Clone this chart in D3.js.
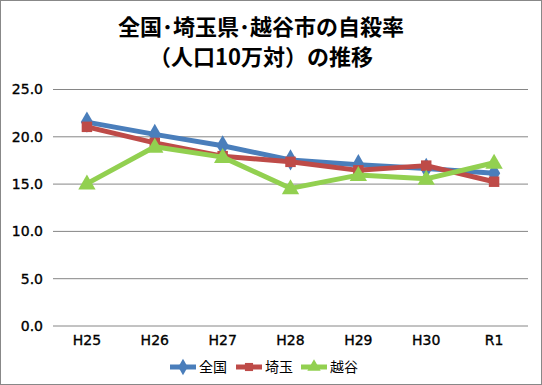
<!DOCTYPE html>
<html><head><meta charset="utf-8">
<script src="https://cdn.jsdelivr.net/npm/d3@7"></script>
<style>body{margin:0;background:#fff}svg{display:block}</style>
</head><body>
<svg id="c" width="542" height="385"></svg>
<script>
const categories = ["H25","H26","H27","H28","H29","H30","R1"];
const zenkoku = [21.5, 20.2, 19.0, 17.5, 17.0, 16.6, 16.1];
const saitama = [21.0, 19.3, 17.9, 17.3, 16.4, 16.9, 15.2];
const koshigaya = [15.0, 18.9, 17.8, 14.5, 15.9, 15.5, 17.2];
const yTicks = [0, 5, 10, 15, 20, 25];
const seriesNames = ["全国","埼玉","越谷"];

const series = [
  {name: seriesNames[0], values: zenkoku, color: "#4A7EBB", sym: d3.symbolDiamond, size: 130},
  {name: seriesNames[1], values: saitama, color: "#BE4B48", sym: d3.symbolSquare, size: 110},
  {name: seriesNames[2], values: koshigaya, color: "#92D050", sym: d3.symbolTriangle, size: 130}
];

const svg = d3.select("#c");
const L = 53, R = 528, T = 89, B = 325.5;
const x = d3.scaleBand().domain(categories).range([L, R]);
const y = d3.scaleLinear().domain([0, 25]).range([B, T]);
const numFont = "'DejaVu Sans', Verdana, sans-serif";
const jpFont = "'Noto Sans CJK JP', sans-serif";

svg.append("rect").attr("x",0.5).attr("y",0.5).attr("width",541).attr("height",384)
  .attr("fill","#fff").attr("stroke","#888").attr("stroke-width",1);

const title = svg.append("text").attr("text-anchor","middle")
  .attr("font-family", jpFont).attr("font-weight","bold").attr("font-size",22).attr("fill","#000");
title.append("tspan").attr("x",261).attr("y",35).text("全国･埼玉県･越谷市の自殺率");
title.append("tspan").attr("x",261).attr("y",65).text("（人口10万対）の推移");

// gridlines
const yAxis = d3.axisLeft(y).tickValues(yTicks).tickFormat(d3.format(".1f")).tickSize(-(R-L)).tickPadding(10);
const ga = svg.append("g").attr("transform",`translate(${L},0)`).call(yAxis);
ga.select(".domain").remove();
ga.selectAll(".tick line").attr("stroke","#868686").attr("stroke-width",1);
ga.selectAll(".tick text").attr("font-family",numFont).attr("font-weight","normal")
  .attr("font-size",14).attr("fill","#000").attr("stroke","#000").attr("stroke-width",0.35)
  .attr("x",-10).attr("dy","0.35em");

const xAxis = d3.axisBottom(x).tickSize(0).tickPadding(10);
const gx = svg.append("g").attr("transform",`translate(0,${B})`).call(xAxis);
gx.select(".domain").remove();
gx.selectAll(".tick text").attr("font-family",numFont).attr("font-weight","normal")
  .attr("font-size",14).attr("fill","#000").attr("stroke","#000").attr("stroke-width",0.35);

const cx = d => x(d) + x.bandwidth()/2;
const line = d3.line().x((d,i)=>cx(categories[i])).y(d=>y(d));

series.forEach(s => {
  svg.append("path").datum(s.values).attr("d", line).attr("fill","none")
    .attr("stroke", s.color).attr("stroke-width",5).attr("stroke-linejoin","round");
  svg.append("g").selectAll("path").data(s.values).join("path")
    .attr("d", d3.symbol().type(s.sym).size(s.size))
    .attr("transform",(d,i)=>`translate(${cx(categories[i])},${y(d) + (s.sym===d3.symbolTriangle?1:0)})`)
    .attr("fill", s.color);
});

// legend
const legX = [170, 236, 301];
const lg = svg.append("g");
series.forEach((s,i) => {
  const g = lg.append("g").attr("transform",`translate(${legX[i]},367)`);
  g.append("line").attr("x1",0).attr("x2",26).attr("y1",0).attr("y2",0)
    .attr("stroke",s.color).attr("stroke-width",5);
  g.append("path").attr("d", d3.symbol().type(s.sym).size(s.size*0.6)).attr("transform","translate(13,0)").attr("fill",s.color);
  g.append("text").attr("x",29).attr("y",0).attr("dy","0.36em")
    .attr("font-family",jpFont).attr("font-size",14).attr("fill","#000").text(s.name);
});
</script>
</body></html>
